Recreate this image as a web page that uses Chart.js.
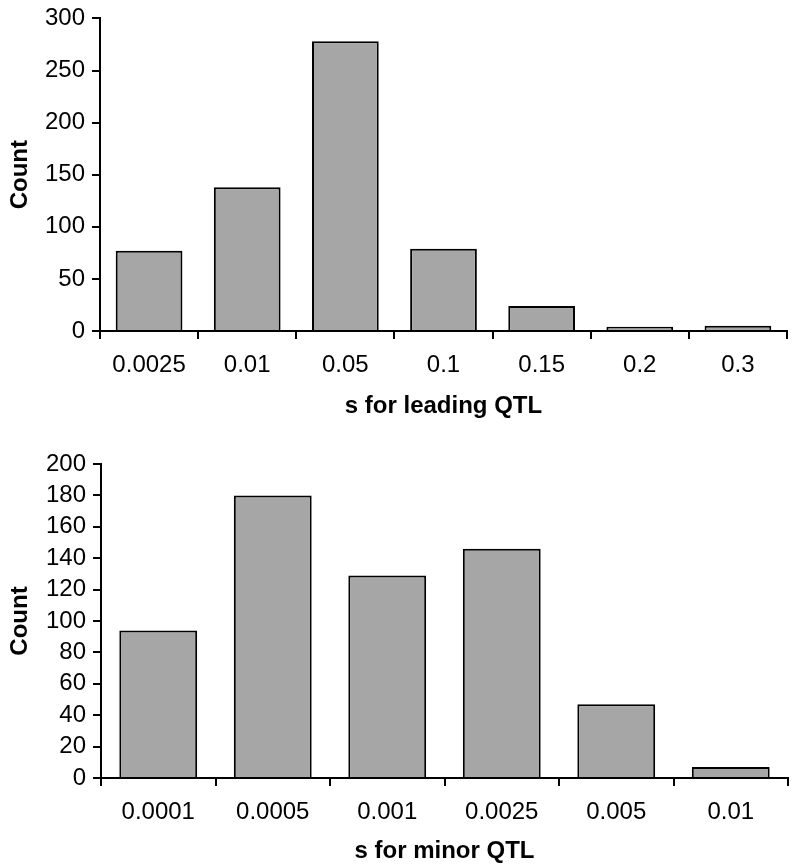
<!DOCTYPE html>
<html>
<head>
<meta charset="utf-8">
<script src="https://cdn.jsdelivr.net/npm/chart.js@4"></script>
<style>
  body { margin: 0; background: #fff; overflow: hidden; }
  .box { position: absolute; left: 0; width: 800px; }
  #top-box { top: -3px; height: 428px; }
  #bottom-box { top: 440px; height: 427px; }
</style>
</head>
<body>
<div class="box" id="top-box"><canvas id="leading-canvas"></canvas></div>
<div class="box" id="bottom-box"><canvas id="minor-canvas"></canvas></div>
<script>
// data
const leadingLabels = ["0.0025", "0.01", "0.05", "0.1", "0.15", "0.2", "0.3"];
const leadingCounts = [77, 138, 278, 79, 24, 4, 5];

const minorLabels = ["0.0001", "0.0005", "0.001", "0.0025", "0.005", "0.01"];
const minorCounts = [94, 180, 129, 146, 47, 7];

// shared config
const fontFamily = "'Liberation Sans', Arial, sans-serif";

const lineStyle = {
  grid: {
    drawOnChartArea: false,
    color: "#000",
    lineWidth: 2,
    tickLength: 8,
  },
  border: {
    color: "#000",
    width: 2,
  },
};

const tickFont = { family: fontFamily, size: 24 };
const titleFont = { family: fontFamily, size: 24, weight: "bold" };

const makeChart = (canvasId, labels, counts, opts) => {
  return new Chart(document.getElementById(canvasId), {
    type: "bar",
    data: {
      labels: labels,
      datasets: [
        {
          label: "Count",
          data: counts,
          backgroundColor: "#a6a6a6",
          borderColor: "#000",
          borderWidth: 2,
          barPercentage: 0.68,
          categoryPercentage: 1,
        },
      ],
    },
    options: {
      responsive: true,
      maintainAspectRatio: false,
      animation: false,
      layout: {
        padding: { top: opts.padTop, right: opts.padRight, left: 0, bottom: 0 },
      },
      scales: {
        x: {
          ...lineStyle,
          ticks: {
            color: "#000",
            font: tickFont,
            padding: 12,
            maxRotation: 0,
            autoSkip: false,
          },
          title: {
            display: true,
            text: opts.xTitle,
            color: "#000",
            font: titleFont,
            padding: { top: 10, bottom: opts.titlePad },
          },
          afterFit: (scale) => {
            scale.height = opts.xHeight;
          },
        },
        y: {
          ...lineStyle,
          min: 0,
          max: opts.yMax,
          ticks: {
            stepSize: opts.yStep,
            color: "#000",
            font: tickFont,
            padding: 7,
            autoSkip: false,
          },
          title: {
            display: true,
            text: "Count",
            color: "#000",
            font: titleFont,
            padding: 6,
          },
          afterFit: (scale) => {
            scale.width = opts.yWidth;
          },
        },
      },
      plugins: {
        legend: { display: false },
        tooltip: { enabled: false },
      },
    },
  });
};

// s for leading QTL chart
makeChart("leading-canvas", leadingLabels, leadingCounts, {
  xTitle: "s for leading QTL",
  yMax: 300,
  yStep: 50,
  padTop: 20,
  padRight: 13,
  xHeight: 94,
  yWidth: 100,
  titlePad: 4,
});

// s for minor QTL chart
makeChart("minor-canvas", minorLabels, minorCounts, {
  xTitle: "s for minor QTL",
  yMax: 200,
  yStep: 20,
  padTop: 24,
  padRight: 12,
  xHeight: 89,
  yWidth: 101,
  titlePad: 1,
});
</script>
</body>
</html>
